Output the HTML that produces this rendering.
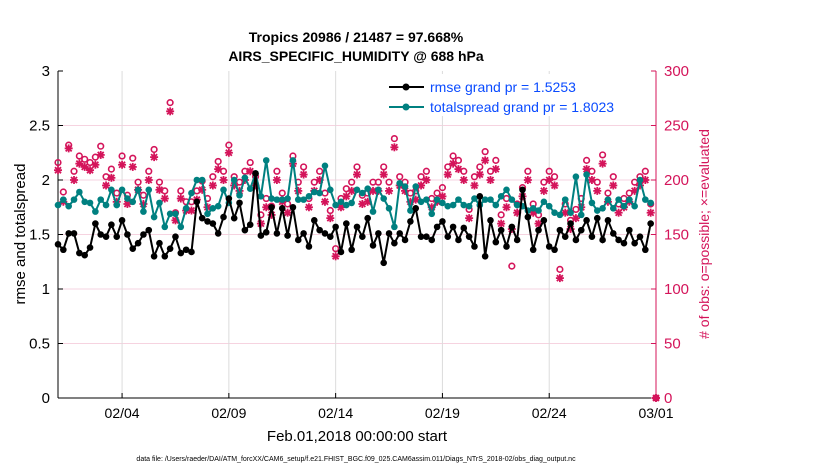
<!DOCTYPE html>
<html><head><meta charset="utf-8"><style>
body{margin:0;background:#fff;width:830px;height:470px;overflow:hidden;font-family:"Liberation Sans",sans-serif}
svg text{font-family:"Liberation Sans",sans-serif}
</style></head><body>
<svg id="chart" width="830" height="470" xmlns="http://www.w3.org/2000/svg">
<text x="356" y="42" text-anchor="middle" font-size="14" font-weight="bold">Tropics 20986 / 21487 = 97.668%</text>
<text x="356" y="61" text-anchor="middle" font-size="14" font-weight="bold">AIRS_SPECIFIC_HUMIDITY @ 688 hPa</text>
<text transform="translate(25,234) rotate(-90)" text-anchor="middle" font-size="15">rmse and totalspread</text>
<text transform="translate(709,234) rotate(-90)" text-anchor="middle" font-size="14" fill="#d4145a"># of obs: o=possible; ×=evaluated</text>
<text x="357" y="441" text-anchor="middle" font-size="15">Feb.01,2018 00:00:00 start</text>
<text x="356" y="461" text-anchor="middle" font-size="7">data file: /Users/raeder/DAI/ATM_forcXX/CAM6_setup/f.e21.FHIST_BGC.f09_025.CAM6assim.011/Diags_NTrS_2018-02/obs_diag_output.nc</text>
<g id="grid"></g><g id="axes"></g><g id="series"></g>
<g>
<rect x="382" y="74" width="270" height="42" fill="#fff"/>
<line x1="389" y1="87" x2="424" y2="87" stroke="#000" stroke-width="2"/><circle cx="406" cy="87" r="3.5" fill="#000"/>
<text x="430" y="92" font-size="14" fill="#0a4bff">rmse grand pr = 1.5253</text>
<line x1="389" y1="107" x2="424" y2="107" stroke="#008080" stroke-width="2"/><circle cx="406" cy="107" r="3.5" fill="#008080"/>
<text x="430" y="112" font-size="14" fill="#0a4bff">totalspread grand pr = 1.8023</text>
</g>
</svg>
<script>
const dateTicks=["02/04","02/09","02/14","02/19","02/24","03/01"];
const dateTickDays=[3,8,13,18,23,28];
const leftTicks=[0,0.5,1,1.5,2,2.5,3];
const rightTicks=[0,50,100,150,200,250,300];
const rmse=[1.41,1.36,1.51,1.51,1.33,1.31,1.38,1.60,1.50,1.48,1.59,1.48,1.63,1.50,1.37,1.42,1.50,1.54,1.30,1.42,1.30,1.37,1.48,1.33,1.36,1.34,1.80,1.65,1.62,
1.60,1.51,1.66,1.83,1.65,1.79,1.54,1.59,2.06,1.49,1.52,1.75,1.51,1.74,1.49,1.75,1.45,1.51,1.39,1.63,1.54,1.51,1.48,1.57,1.34,1.60,1.36,1.57,
1.48,1.65,1.40,1.51,1.24,1.51,1.42,1.51,1.45,1.62,1.74,1.48,1.48,1.45,1.57,1.62,1.48,1.57,1.45,1.56,1.48,1.39,1.85,1.30,1.63,1.43,1.54,1.39,
1.57,1.45,1.91,1.66,1.36,1.54,1.63,1.39,1.36,1.54,1.48,1.60,1.45,1.54,1.63,1.48,1.65,1.45,1.63,1.51,1.45,1.42,1.54,1.42,1.48,1.36,1.60];
const spread=[1.77,1.82,1.76,1.82,1.89,1.80,1.79,1.71,1.82,1.77,1.91,1.77,1.91,1.83,1.80,1.91,1.71,1.91,1.66,1.79,1.57,1.69,1.69,1.57,1.74,1.88,2.00,
2.00,1.69,1.74,1.76,1.91,1.79,2.00,1.86,2.02,1.92,2.06,1.85,2.18,1.83,1.82,1.82,1.83,2.18,1.82,1.82,1.85,1.89,1.88,2.13,1.91,1.77,1.80,1.77,
1.79,1.91,1.88,1.92,1.71,1.91,1.83,1.74,1.57,1.97,1.94,1.72,1.94,1.80,1.82,1.69,1.82,1.79,1.76,1.77,1.82,1.77,1.76,1.83,1.77,1.82,1.82,1.77,
1.85,1.91,1.82,1.77,1.76,1.72,1.74,1.72,1.80,1.76,1.70,1.68,1.82,1.70,2.03,1.68,2.05,1.79,1.72,1.74,1.82,1.74,1.82,1.76,1.82,1.76,2.00,1.82,1.79];
const evaluated=[209,180,229,200,215,212,209,214,223,195,202,180,214,178,212,191,178,200,221,191,183,263,163,183,172,172,182,191,
175,195,210,200,225,195,190,200,208,195,160,175,168,200,180,170,215,190,205,175,190,200,180,165,130,175,185,190,
205,178,180,190,190,205,190,230,195,190,180,182,195,200,175,180,185,205,215,210,200,165,195,205,218,200,210,160,
175,155,170,185,200,170,160,190,200,195,110,170,155,165,175,210,200,190,215,180,195,170,175,180,190,195,200,170,0];
const possible=[216,189,232,208,222,219,216,221,231,203,210,188,222,186,220,198,186,208,228,198,190,271,170,190,180,180,190,199,
183,203,217,208,232,203,198,208,216,203,168,183,176,208,188,178,222,198,212,183,198,208,188,172,137,183,192,198,
212,186,188,198,198,212,198,238,203,198,188,190,203,208,183,188,193,212,222,218,208,173,203,212,226,208,218,168,
183,121,178,193,208,178,168,198,208,203,118,178,163,173,183,218,208,198,223,188,203,178,183,188,198,203,208,178,0];
const X0=58,X1=656,Y0=398,Y1=71,NS="http://www.w3.org/2000/svg";
const xDay=d=>X0+(X1-X0)*d/28;
const yL=v=>Y0-(Y0-Y1)*v/3;
const yR=v=>Y0-(Y0-Y1)*v/300;
function mk(tag,attrs,parent){const e=document.createElementNS(NS,tag);for(const k in attrs)e.setAttribute(k,attrs[k]);parent.appendChild(e);return e;}
const grid=document.getElementById('grid'),axes=document.getElementById('axes'),ser=document.getElementById('series');
const MAG="#d4145a";
rightTicks.forEach(v=>{if(v>0&&v<300){const l=mk('line',{x1:X0,x2:X1,y1:yR(v),y2:yR(v),stroke:'#f6d3e0','stroke-width':1},grid);

}});
dateTickDays.forEach((d,i)=>{const l=mk('line',{x1:xDay(d),x2:xDay(d),y1:Y1,y2:Y0,stroke:'#dcdcdc','stroke-width':1},grid);


const t=mk('text',{x:xDay(d),y:Y0+20,'text-anchor':'middle','font-size':14},axes);t.textContent=dateTicks[i];


mk('line',{x1:xDay(d),x2:xDay(d),y1:Y0,y2:Y0-5,stroke:'#000'},axes);});
mk('line',{x1:X0,x2:X0,y1:Y1,y2:Y0,stroke:'#000','stroke-width':1},axes);
mk('line',{x1:X0,x2:X1,y1:Y0,y2:Y0,stroke:'#000','stroke-width':1},axes);
mk('line',{x1:X1,x2:X1,y1:Y1,y2:Y0,stroke:MAG,'stroke-width':1},axes);
leftTicks.forEach(v=>{mk('line',{x1:X0,x2:X0+5,y1:yL(v),y2:yL(v),stroke:'#000'},axes);
const t=mk('text',{x:X0-8,y:yL(v)+5,'text-anchor':'end','font-size':15},axes);t.textContent=String(v);

});
rightTicks.forEach(v=>{mk('line',{x1:X1,x2:X1-5,y1:yR(v),y2:yR(v),stroke:MAG},axes);
const t=mk('text',{x:X1+8,y:yR(v)+5,'font-size':15,fill:MAG},axes);t.textContent=String(v);

});
// obs counts
possible.forEach((v,i)=>{const c=mk('circle',{cx:xDay(i*0.25),cy:yR(v),r:2.8,fill:'none',stroke:MAG,'stroke-width':1.6},ser);

});
evaluated.forEach((v,i)=>{const x=xDay(i*0.25),y=yR(v);const g=mk('g',{stroke:MAG,'stroke-width':1.8},ser);


mk('line',{x1:x-4,x2:x+4,y1:y,y2:y},g);mk('line',{x1:x,x2:x,y1:y-4,y2:y+4},g);
mk('line',{x1:x-3,x2:x+3,y1:y-3,y2:y+3},g);mk('line',{x1:x-3,x2:x+3,y1:y+3,y2:y-3},g);});
function line(arr,col,name){const p=mk('polyline',{points:arr.map((v,i)=>xDay(i*0.25)+','+yL(v)).join(' '),fill:'none',stroke:col,'stroke-width':2},ser);


arr.forEach((v,i)=>{const c=mk('circle',{cx:xDay(i*0.25),cy:yL(v),r:3.3,fill:col},ser);

});}
line(spread,'#008080','totalspread');
line(rmse,'#000000','rmse');
</script>
</body></html>
